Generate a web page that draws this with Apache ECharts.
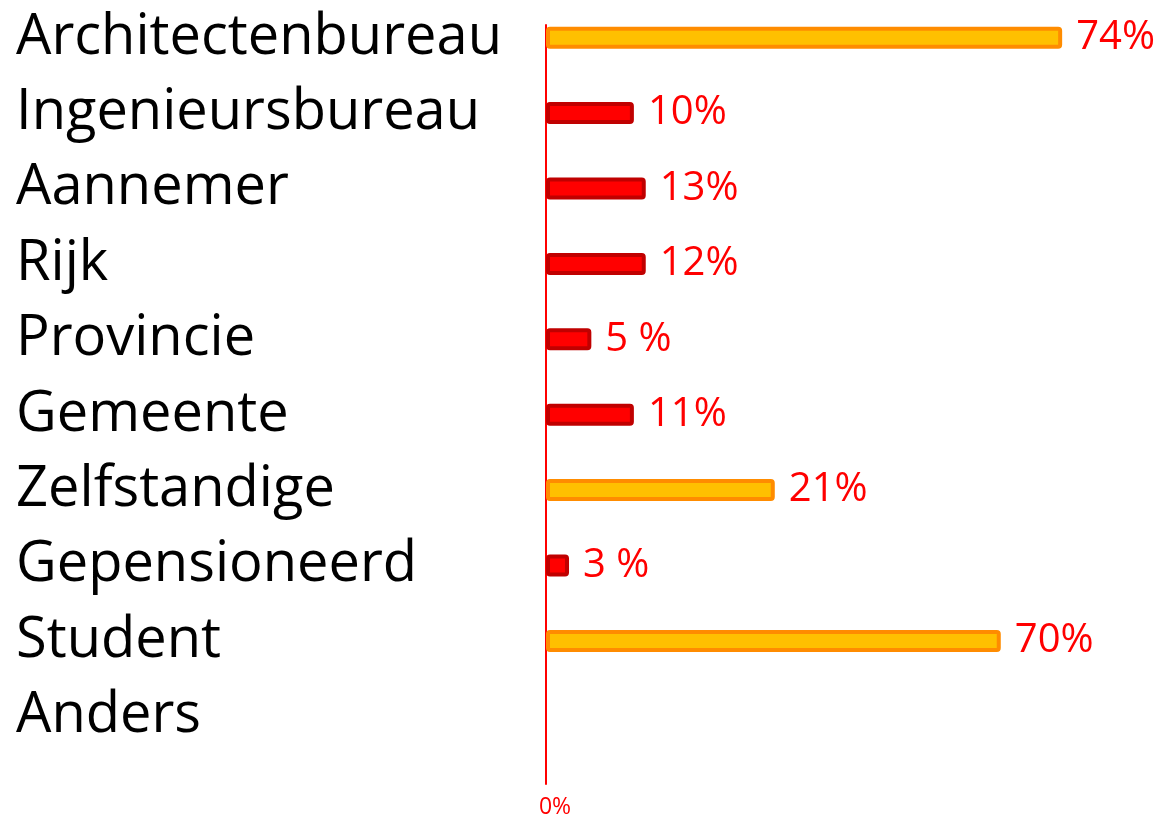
<!DOCTYPE html>
<html><head><meta charset="utf-8">
<script src="https://cdn.jsdelivr.net/npm/echarts@6/dist/echarts.min.js"></script>
<style>html,body{margin:0;padding:0;background:#fff}#c{width:1161px;height:819px}</style>
</head><body><div id="c"></div>
<script>
const categories = ['Architectenbureau','Ingenieursbureau','Aannemer','Rijk','Provincie','Gemeente','Zelfstandige','Gepensioneerd','Student','Anders'];
// bar lengths as drawn (scaled like the 74% bar)
const barValues = [74, 12.6, 14.3, 14.3, 6.5, 12.6, 32.8, 3.3, 65.2, null];
const valueLabels = ['74%','10%','13%','12%','5 %','11%','21%','3 %','70%',''];
const highlight = [true,false,false,false,false,false,true,false,true,false];
const axisTickLabels = ['0%'];

const orangeStyle = {color:'#FFC000', borderColor:'#FF8C00', borderWidth:4, borderRadius:2};
const redStyle = {color:'#FF0000', borderColor:'#C00000', borderWidth:4, borderRadius:2};

const chart = echarts.init(document.getElementById('c'));
chart.setOption({
  animation:false,
  grid:[
    {left:546, right:57, top:-2, bottom:65, containLabel:false},
    {left:546, right:57, top:25, bottom:34, containLabel:false}
  ],
  xAxis:[
    {gridIndex:0, type:'value', min:0, max:80, show:false},
    {gridIndex:1, type:'value', min:0, max:80, interval:80,
     axisLine:{show:false}, axisTick:{show:false}, splitLine:{show:false},
     axisLabel:{show:true, margin:12, color:'#FF0000', fontSize:23, fontFamily:'Open Sans',
       formatter:function(v){return v===0?axisTickLabels[0]:'';}, padding:[0,0,0,18]}}
  ],
  yAxis:[
    {gridIndex:0, type:'category', data:categories, inverse:true,
     axisLine:{show:false}, axisTick:{show:false},
     axisLabel:{align:'left', margin:530, color:'#000', fontSize:56, fontFamily:'Open Sans'}},
    {gridIndex:1, type:'value', min:0, max:1, axisLabel:{show:false}, splitLine:{show:false},
     axisTick:{show:false}, axisLine:{show:true, lineStyle:{color:'#FF0000', width:2}}}
  ],
  series:[{
    type:'bar', xAxisIndex:0, yAxisIndex:0, barWidth:22,
    data: barValues.map(function(v,i){
      return {value:v, itemStyle: highlight[i]?orangeStyle:redStyle,
        label:{formatter: valueLabels[i]}};
    }),
    label:{show:true, position:'right', distance:14, color:'#FF0000', fontSize:40, fontFamily:'Open Sans'}
  }]
});
</script></body></html>
